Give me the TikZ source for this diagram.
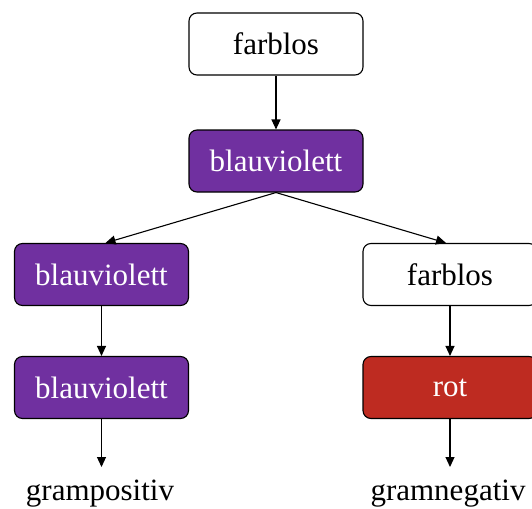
\documentclass[tikz,border=0pt]{standalone}
\usepackage{fontspec}
\setmainfont{Liberation Serif}
\usetikzlibrary{arrows.meta}
\definecolor{violettbox}{RGB}{112,48,160}
\definecolor{rotbox}{RGB}{190,43,33}
\tikzset{
  stage/.style={draw=black, line width=1.1pt, rounded corners=8pt, minimum width=174pt, minimum height=62pt, inner sep=0pt, font=\fontsize{31}{36}\selectfont},
  clear/.style={stage, fill=white, text=black},
  violet/.style={stage, fill=violettbox, text=white},
  red/.style={stage, fill=rotbox, text=white},
  result/.style={inner sep=0pt, font=\fontsize{31}{36}\selectfont},
  conn/.style={draw=black, line width=1.1pt, -{Triangle[length=10pt,width=9pt]}}
}
\begin{document}
\begin{tikzpicture}[x=1pt,y=-1pt]
\useasboundingbox (0,0) rectangle (532,508);
\clip (0,0) rectangle (532,508);
\node[clear]  (a) at (276,44) {farblos};
\node[violet] (b) at (276,161) {blauviolett};
\node[violet] (c) at (101.5,274.5) {blauviolett};
\node[violet] (d) at (101.5,387.5) {blauviolett};
\node[clear]  (e) at (450,274.5) {farblos};
\node[red]    (f) at (450,387.5) {rot};
\node[result, anchor=base] (g) at (100,500) {grampositiv};
\node[result, anchor=base] (h) at (448,500) {gramnegativ};
\coordinate (gt) at (101.5,467);
\coordinate (ht) at (450,467);
\draw[conn] (a) -- (b);
\draw[conn] (b.south) -- ([xshift=4pt]c.north);
\draw[conn] (b.south) -- ([xshift=-4pt]e.north);
\draw[conn] (c) -- (d);
\draw[conn] (e) -- (f);
\draw[conn] (d.south) -- (gt);
\draw[conn] (f.south) -- (ht);
\end{tikzpicture}
\end{document}
